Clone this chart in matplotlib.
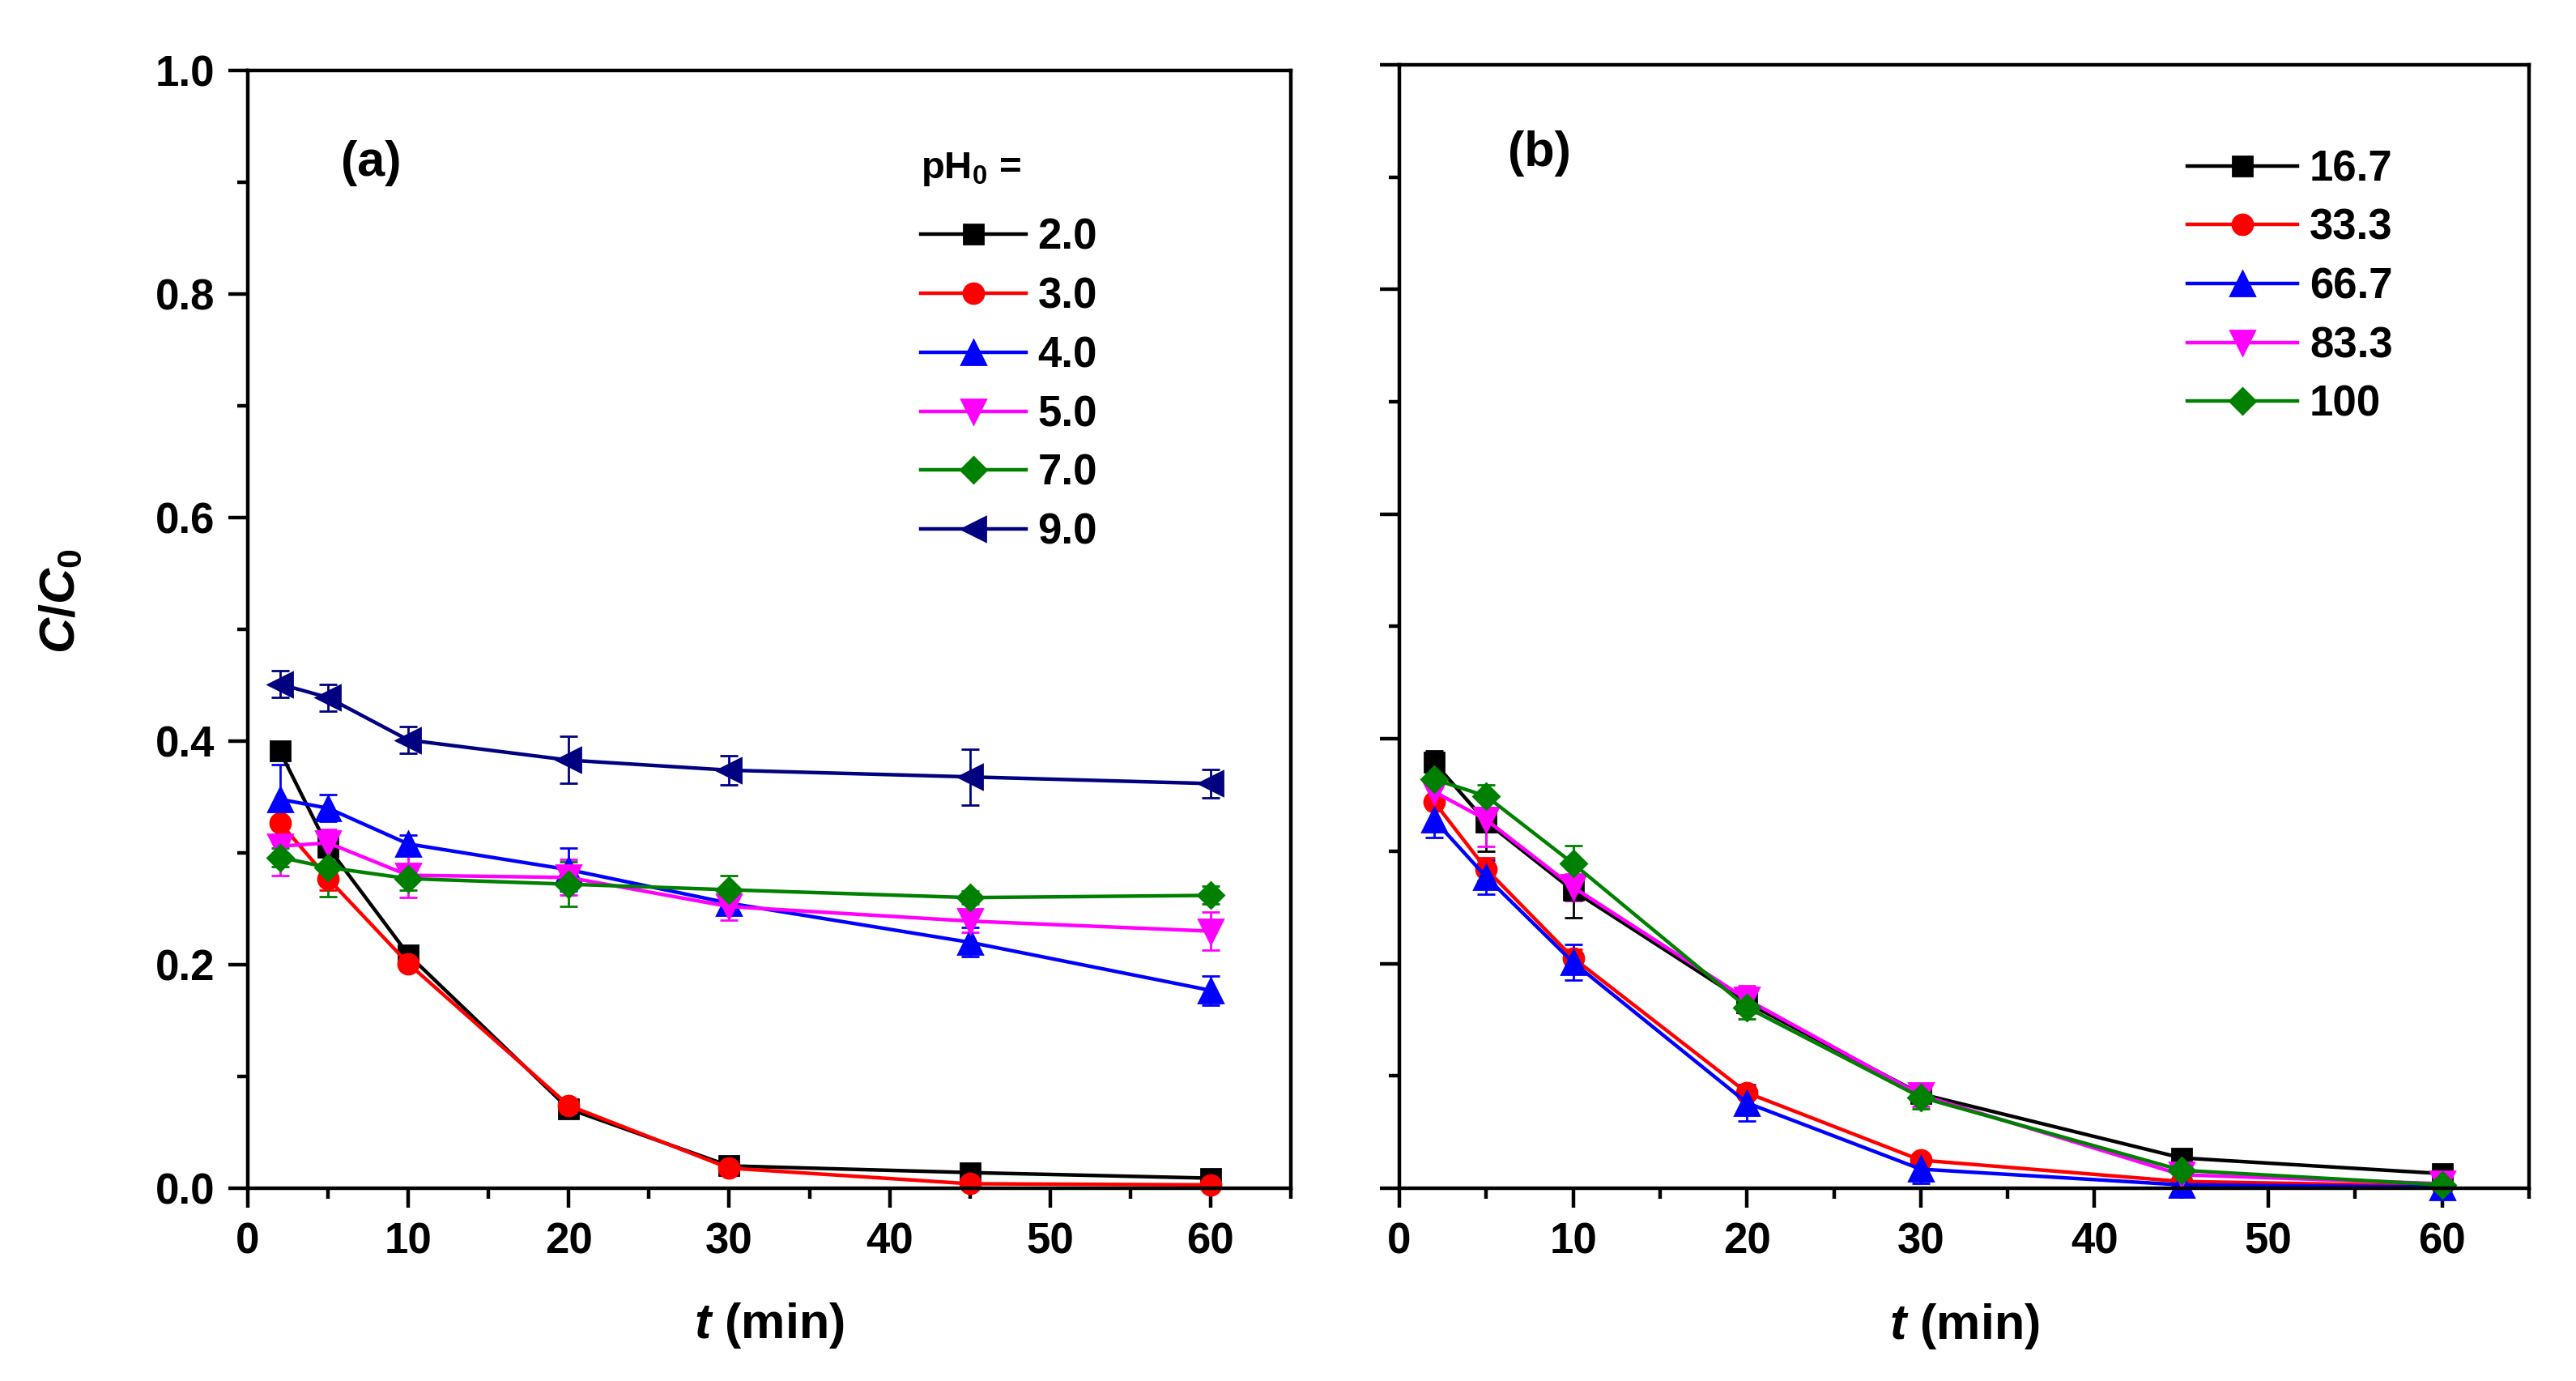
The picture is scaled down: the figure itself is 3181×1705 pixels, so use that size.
import matplotlib
matplotlib.use("Agg")
import matplotlib.pyplot as plt
from matplotlib.ticker import MultipleLocator
from matplotlib.lines import Line2D

plt.rcParams['font.family'] = ['Liberation Sans', 'DejaVu Sans']
plt.rcParams['font.weight'] = 'bold'
plt.rcParams['mathtext.fontset'] = 'custom'
plt.rcParams['mathtext.it'] = 'Liberation Sans:italic:bold'
plt.rcParams['mathtext.rm'] = 'Liberation Sans:bold'
plt.rcParams['mathtext.bf'] = 'Liberation Sans:bold'

# ---------------- data ----------------
t_min = [2, 5, 10, 20, 30, 45, 60]

# panel (a): initial pH
ph_labels = ['2.0', '3.0', '4.0', '5.0', '7.0', '9.0']
ph_2 = [0.391, 0.305, 0.209, 0.071, 0.020, 0.014, 0.009]
ph_2_err = [0.005, 0.005, 0.005, 0.004, 0.004, 0.003, 0.003]
ph_3 = [0.327, 0.277, 0.201, 0.074, 0.018, 0.004, 0.003]
ph_3_err = [0.012, 0.010, 0.005, 0.004, 0.003, 0.003, 0.002]
ph_4 = [0.348, 0.340, 0.308, 0.285, 0.255, 0.220, 0.177]
ph_4_err = [0.031, 0.012, 0.008, 0.019, 0.008, 0.013, 0.013]
ph_5 = [0.306, 0.309, 0.280, 0.278, 0.252, 0.239, 0.230]
ph_5_err = [0.026, 0.012, 0.020, 0.016, 0.012, 0.010, 0.017]
ph_7 = [0.296, 0.287, 0.277, 0.272, 0.267, 0.260, 0.262]
ph_7_err = [0.008, 0.026, 0.010, 0.020, 0.013, 0.006, 0.008]
ph_9 = [0.451, 0.439, 0.401, 0.383, 0.374, 0.368, 0.362]
ph_9_err = [0.012, 0.012, 0.012, 0.021, 0.013, 0.025, 0.013]

# panel (b)
b_labels = ['16.7', '33.3', '66.7', '83.3', '100']
b_167 = [0.379, 0.326, 0.265, 0.165, 0.084, 0.027, 0.013]
b_167_err = [0.010, 0.026, 0.024, 0.008, 0.005, 0.004, 0.003]
b_333 = [0.344, 0.284, 0.205, 0.085, 0.025, 0.006, 0.002]
b_333_err = [0.020, 0.010, 0.008, 0.005, 0.005, 0.004, 0.002]
b_667 = [0.328, 0.277, 0.201, 0.076, 0.017, 0.003, 0.001]
b_667_err = [0.016, 0.015, 0.016, 0.016, 0.013, 0.006, 0.003]
b_833 = [0.353, 0.328, 0.268, 0.168, 0.083, 0.012, 0.004]
b_833_err = [0.010, 0.024, 0.012, 0.012, 0.010, 0.004, 0.003]
b_100 = [0.364, 0.349, 0.289, 0.161, 0.081, 0.016, 0.003]
b_100_err = [0.024, 0.010, 0.016, 0.010, 0.010, 0.003, 0.003]

colors_a = ['#000000', '#FF0000', '#0000FF', '#FF00FF', '#008000', '#000080']
markers_a = ['s', 'o', '^', 'v', 'D', '<']
msizes_a = [8.5, 9, 10.5, 10.5, 8, 10.5]
colors_b = ['#000000', '#FF0000', '#0000FF', '#FF00FF', '#008000']
markers_b = ['s', 'o', '^', 'v', 'D']
msizes_b = [8.5, 9, 10.5, 10.5, 8]

series_a = [(ph_2, ph_2_err), (ph_3, ph_3_err), (ph_4, ph_4_err),
            (ph_5, ph_5_err), (ph_7, ph_7_err), (ph_9, ph_9_err)]
series_b = [(b_167, b_167_err), (b_333, b_333_err), (b_667, b_667_err),
            (b_833, b_833_err), (b_100, b_100_err)]

W, H = 3181, 1705
DPI = 200
fig = plt.figure(figsize=(W / DPI, H / DPI), dpi=DPI)
ax_a = fig.add_axes([306 / W, (H - 1467) / H, (1594 - 306) / W, 1380 / H])
ax_b = fig.add_axes([1728 / W, (H - 1467) / H, (3123 - 1728) / W, 1387 / H])

TICK_FS = 19
LS = 0.43


def style_axes(ax, ylabels=True):
    ax.set_xlim(0, 65)
    ax.set_ylim(0, 1.0)
    ax.xaxis.set_major_locator(MultipleLocator(10))
    ax.xaxis.set_minor_locator(MultipleLocator(5))
    ax.yaxis.set_major_locator(MultipleLocator(0.2))
    ax.yaxis.set_minor_locator(MultipleLocator(0.1))
    for s in ax.spines.values():
        s.set_linewidth(1.6)
    ax.tick_params(which='major', direction='out', length=8.8, width=1.6,
                   labelsize=TICK_FS, pad=6, top=False, right=False)
    ax.tick_params(which='minor', direction='out', length=4.6, width=1.6,
                   top=False, right=False)
    ax.tick_params(axis='y', labelleft=ylabels)
    if ylabels:
        ax.set_yticklabels([f'{v:.1f}' for v in ax.get_yticks()])
    for lab in ax.get_xticklabels() + ax.get_yticklabels():
        lab.set_fontweight('bold')
    ax.set_xlabel(r'$\mathit{t}$ (min)', fontsize=22, fontweight='bold')
    ax.xaxis.label.set_verticalalignment('center')
    ax.xaxis.set_label_coords(0.5, -0.123)


def draw(ax, series, labels, colors, markers, msizes):
    for (y, e), lab, c, m, ms in zip(series, labels, colors, markers, msizes):
        ax.errorbar(t_min, y, yerr=e, color=c, marker=m, ms=ms, lw=1.6,
                    mec=c, mfc=c, elinewidth=1.0, capsize=3.8,
                    capthick=1.0, label=lab, clip_on=False)


draw(ax_a, series_a, ph_labels, colors_a, markers_a, msizes_a)
draw(ax_b, series_b, b_labels, colors_b, markers_b, msizes_b)
style_axes(ax_a, True)
style_axes(ax_b, False)

ax_a.set_ylabel(r'$\mathit{C/C}_{\mathbf{0}}$', fontsize=22)
ax_a.yaxis.label.set_verticalalignment('center')
ax_a.yaxis.label.set_horizontalalignment('center')
ax_a.yaxis.set_label_coords(-0.179, 0.525)

ax_a.text(0.118, 0.917, '(a)', transform=ax_a.transAxes, fontsize=22,
          fontweight='bold', ha='center', va='center')
ax_b.text(0.124, 0.921, '(b)', transform=ax_b.transAxes, fontsize=22,
          fontweight='bold', ha='center', va='center')


def legend_handles(colors, markers, msizes):
    return [Line2D([], [], color=c, marker=m, ms=ms, lw=1.6, mfc=c, mec=c)
            for c, m, ms in zip(colors, markers, msizes)]


leg_a = ax_a.legend(legend_handles(colors_a, markers_a, msizes_a), ph_labels,
                    loc='upper left', bbox_to_anchor=(0.645, 0.928),
                    frameon=False, fontsize=TICK_FS, borderpad=0,
                    borderaxespad=0, handlelength=2.46, handletextpad=0.28,
                    labelspacing=LS, title=r'pH$_{\mathbf{0}}$ =',
                    title_fontproperties={'size': 17, 'weight': 'bold'},
                    alignment='left')
leg_a._legend_box.sep = LS * TICK_FS + 5.0
for tx in leg_a.get_texts():
    tx.set_fontweight('bold')

leg_b = ax_b.legend(legend_handles(colors_b, markers_b, msizes_b), b_labels,
                    loc='upper left', bbox_to_anchor=(0.6975, 0.925),
                    frameon=False, fontsize=TICK_FS, borderpad=0,
                    borderaxespad=0, handlelength=2.58, handletextpad=0.28,
                    labelspacing=LS)
for tx in leg_b.get_texts():
    tx.set_fontweight('bold')

fig.savefig('out.png', dpi=DPI)
